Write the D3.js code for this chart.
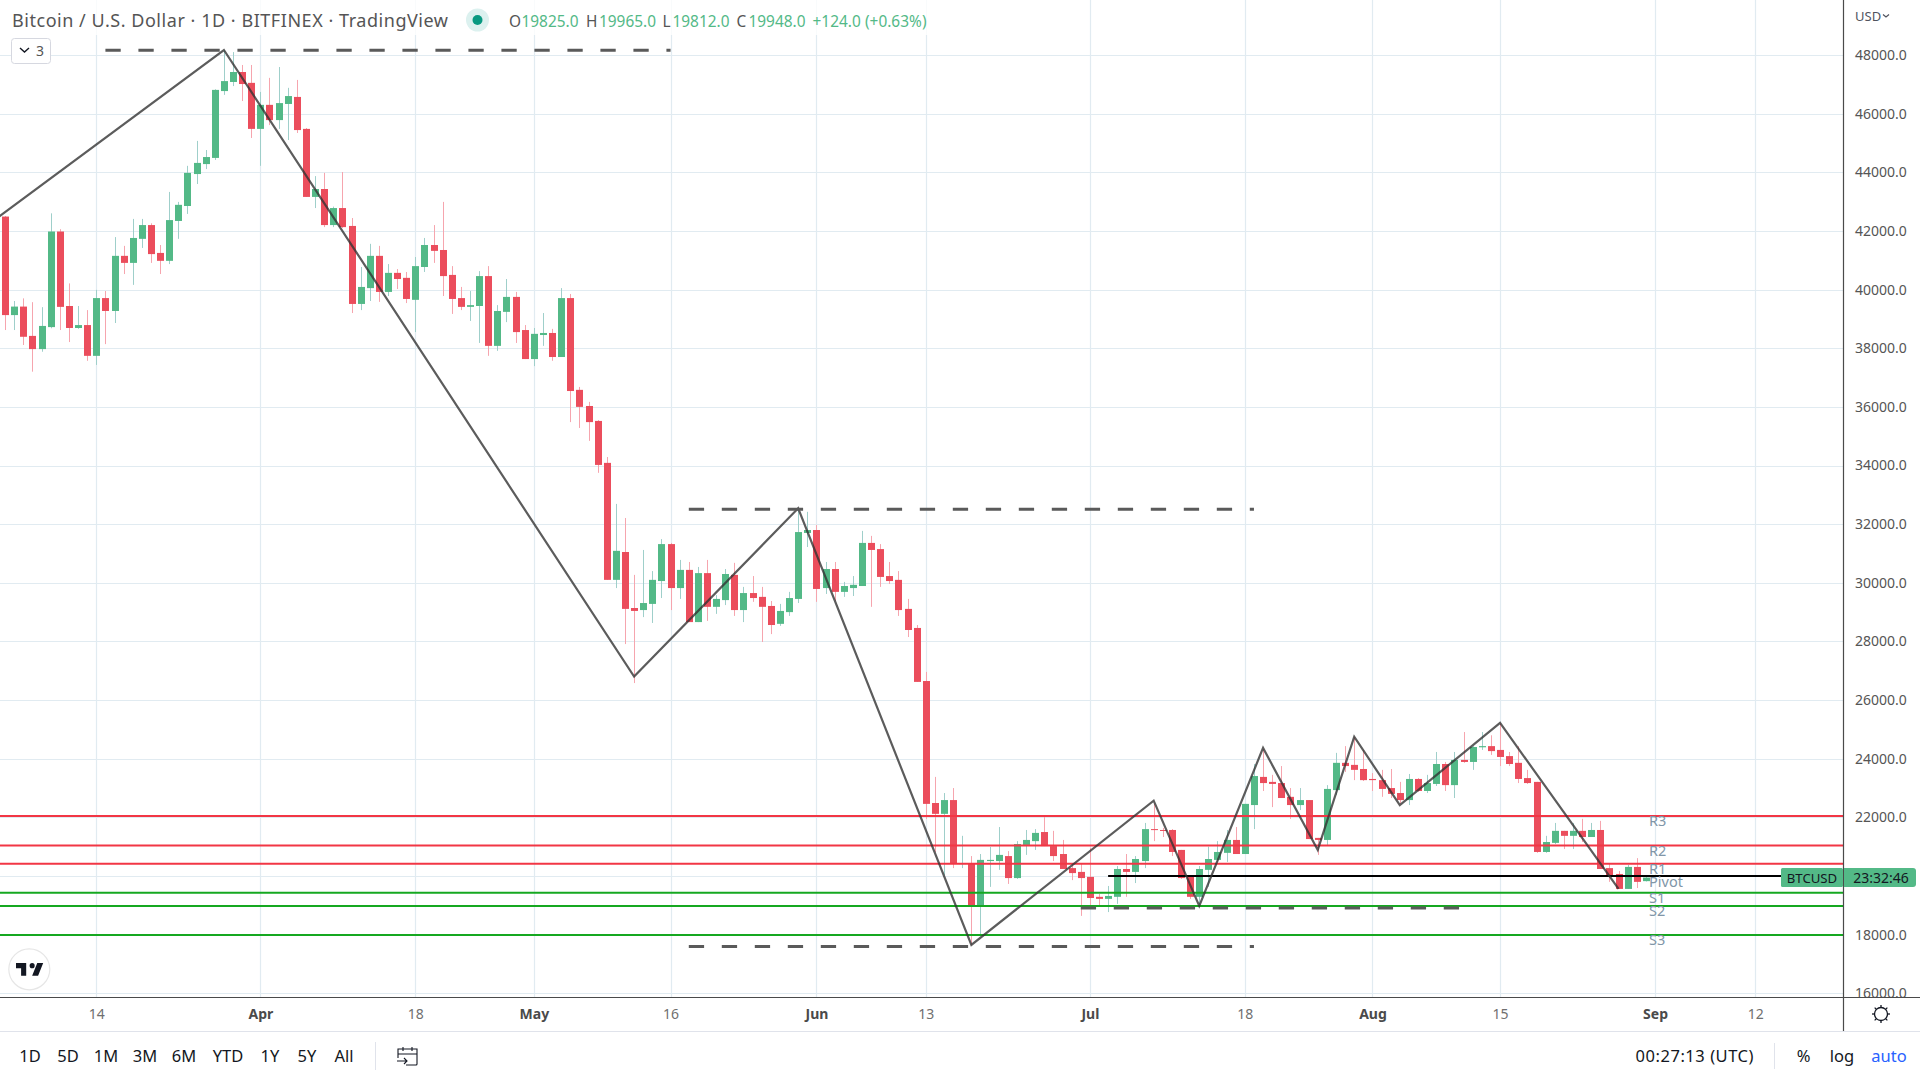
<!DOCTYPE html>
<meta charset="utf-8">
<script src="https://d3js.org/d3.v7.min.js"></script>
<style>
body { margin: 0; background: #fff; }
text { font-family: "Noto Sans", sans-serif; }
</style>
<body>
<script>

var width = 1920
var height = 1080

// daily bars, first one is 4 Mar 2022
var firstDay = new Date(Date.UTC(2022, 2, 4))

var opens = [
  42490,39130,39420,38420,37970,38720,41980,39440,38690,38790,37740,39710,39270,41150,40910,41730,42200,41250,40980,42340,42850,43940,44280,44490,46770,47080,47420,47050,
  45480,46300,45780,46330,46570,45480,43160,43430,42200,42780,42170,39510,40050,41150,39920,40570,40400,39650,40770,41520,41350,40500,39710,39410,39440,40460,38080,39240,39750,38620,
  37630,38450,38520,37700,39710,36580,36030,35520,34090,30100,31050,29140,29070,29280,30060,31320,29820,30440,28660,30330,29180,29410,30270,29070,29650,29520,29210,28600,29000,29450,31700,
  31800,29820,30470,29690,29820,29890,31360,31150,30230,30100,29110,28460,26650,22490,22120,22590,20410,20410,19010,20510,20510,20680,19930,21060,21190,21500,21020,20750,20270,20140,
  19970,19290,19220,19290,20240,20140,20510,21600,21570,21570,20890,19970,19290,20210,20550,20790,21230,20750,22420,23380,23210,23170,22700,22420,22590,21300,21230,22930,23860,23790,23650,
  23310,23270,23000,22830,22590,23310,22900,23140,23820,23100,23960,23890,24390,24430,24300,24090,23860,23340,23210,20820,21130,21540,21370,21540,21330,21570,20270,20070,19560,20310,19825
]
var highs = [
  42510,39610,39700,39570,39400,42600,42060,40210,39440,39300,39990,39950,41790,41490,42410,42410,42260,41520,43330,42990,44220,45070,44760,46830,48170,48100,47660,47660,
  46740,47220,47590,46880,47150,45510,43870,43980,42830,44010,42440,40770,41560,41490,40870,40700,40600,41110,41760,42200,42990,40800,40090,39950,40630,40800,39470,40360,39920,38790,
  38690,39200,38660,40050,39850,36680,36170,35550,34290,32690,32210,30270,31120,30400,31490,31360,30780,30710,30540,30780,29580,30470,30680,29860,30230,29860,29380,29280,29690,32530,32420,
  31970,30710,30710,30030,30230,31770,31600,31320,30710,30400,29450,28560,26960,23380,22830,23000,21370,20680,20750,20990,21670,20850,21190,21570,21600,22050,21540,21230,20380,20410,
  20960,19390,19660,20340,20750,20680,21810,22460,21640,21600,20890,19970,20340,21000,21190,21570,21670,22460,23820,24330,23450,23750,23000,23000,22590,21300,23100,24200,24430,24740,24300,
  23510,23620,23650,23210,23480,23340,23450,24230,23890,24230,24910,24430,24910,24800,25220,24230,24430,23620,23210,21370,21810,21540,21810,21950,21810,21880,20410,20170,20380,20610,19965
]
var lows = [
  38620,38620,38110,37200,37880,38680,38620,38210,38660,37570,37430,38140,38860,40530,40160,41420,40910,40530,40870,41730,42580,43600,44110,44420,46640,46940,46430,45170,
  44220,45610,45480,45100,45340,43160,42780,42130,42130,42100,39200,39300,39610,39580,39780,40020,39540,38550,40600,40910,39780,39170,39300,38930,38180,37740,37910,38890,38180,37630,
  37390,38080,37570,37700,35480,35280,34840,33750,30100,29820,27910,26580,28830,28630,29480,29070,29450,28660,28660,28700,28940,29240,28870,28660,29350,27980,28250,28530,28870,29310,31220,
  29350,29620,29380,29520,29550,29890,29180,29860,29960,28870,28150,26620,21950,20820,20030,20270,20270,17650,17990,19630,20210,19730,19900,20720,20890,21020,20510,20240,19860,18640,
  18940,18980,18770,19050,19290,19760,20270,21190,21330,20680,19900,19220,18940,19630,20480,20480,20750,20750,21600,22900,22350,22660,21950,22250,21260,20720,21060,22760,23550,23270,23240,
  22900,22700,22660,22460,22420,22870,22830,23070,22900,22660,23860,23620,24300,24130,23750,23750,23170,23140,20790,20790,21090,20920,20920,21160,21330,20240,19800,19560,19560,19590,19812
]
var closes = [
  39130,39420,38390,37970,38760,41980,39410,38690,38790,37740,39710,39270,41150,40910,41760,42200,41210,40980,42370,42890,43980,44320,44520,46810,47110,47420,47010,45480,
  46300,45780,46360,46600,45440,43160,43430,42200,42780,42130,39510,40090,41150,39920,40570,40360,39680,40800,41520,41320,40460,39680,39410,39470,40460,38080,39270,39750,38550,37630,
  38490,38520,37700,39710,36540,36000,35480,34020,30100,31090,29110,29040,29310,30100,31320,29820,30440,28660,30330,29180,29450,30300,29070,29650,29480,29180,28560,29040,29480,31730,31800,
  29790,30470,29690,29890,29930,31360,31120,30200,30060,29070,28390,26620,22460,22120,22590,20410,20440,19010,20550,20550,20720,19930,21090,21230,21470,21020,20680,20240,20100,19930,
  19250,19220,19320,20240,20140,20580,21600,21570,21540,20820,19930,19290,20240,20580,20820,21230,20750,22460,23410,23170,23140,22660,22420,22590,21260,21230,22970,23860,23750,23620,23270,
  23270,22970,22800,22590,23310,22900,23170,23820,23100,23960,23890,24400,24430,24260,24060,23820,23310,23170,20820,21160,21540,21370,21540,21330,21570,20240,20000,19560,20310,19800,19948
]

var priceTicks = [16000,18000,20000,22000,24000,26000,28000,30000,32000,34000,36000,38000,40000,42000,44000,46000,48000]
var timeTicks = [[2,14,"14"],[3,1,"Apr"],[3,18,"18"],[4,1,"May"],[4,16,"16"],[5,1,"Jun"],[5,13,"13"],[6,1,"Jul"],[6,18,"18"],[7,1,"Aug"],[7,15,"15"],[8,1,"Sep"],[8,12,"12"]]

// zigzag drawn on the chart, [month, day, price]
var zigzag = [[2,3,42410],[2,28,48170],[4,12,26800],[4,30,32540],[5,18,17650],[6,8,22570],[6,13,18980],[6,20,24370],[6,26,20890],[6,30,24750],[7,4,22420],[7,15,25220],[7,28,19560]]

// dashed horizontals, [from month, from day, to month, to day, price]
var dashed = [[2,15,4,16,48160],[4,18,6,19,32505],[4,18,6,19,17600],[5,30,7,11,18910]]

var levelNames = ["R3","R2","R1","Pivot","S1","S2","S3"]
var levelValues = [22050,21040,20420,20000,19430,18980,17990]

var rangeButtons = ["1D","5D","1M","3M","6M","YTD","1Y","5Y","All"]
var rangeButtonX = [30,68,106,145,184,228,270,307,344]

var up = "#53b987", down = "#eb4d5c"
var upWick = "#9fcfca", downWick = "#f6a5ae"
var gridColor = "#e1ebf1", axisColor = "#4a4a4a"

var chartRight = 1843, chartBottom = 997

function utc(m, d) { return new Date(Date.UTC(2022, m, d)) }

var x = d3.scaleUtc().domain([utc(2,14), utc(8,12)]).range([96.3, 1755.3])
var y = d3.scaleLinear().domain([16000, 48000]).range([993.3, 55])

var svg = d3.select("body").append("svg")
            .attr("width", width)
            .attr("height", height)
            .style("display", "block")

var defs = svg.append("defs")
defs.append("clipPath").attr("id", "pane").append("rect").attr("width", chartRight).attr("height", chartBottom)
defs.append("clipPath").attr("id", "scalepane").append("rect").attr("x", chartRight).attr("width", width - chartRight).attr("height", chartBottom)

var pane = svg.append("g").attr("clip-path", "url(#pane)")

// grid
pane.append("g").selectAll("line").data(priceTicks).join("line")
    .attr("x1", 0).attr("x2", chartRight)
    .attr("y1", function(d) { return Math.round(y(d)) + 0.5 })
    .attr("y2", function(d) { return Math.round(y(d)) + 0.5 })
    .attr("stroke", gridColor)
    .attr("stroke-width", 1.2)
pane.append("g").selectAll("line").data(timeTicks).join("line")
    .attr("x1", function(d) { return Math.round(x(utc(d[0], d[1]))) + 0.5 })
    .attr("x2", function(d) { return Math.round(x(utc(d[0], d[1]))) + 0.5 })
    .attr("y1", 0).attr("y2", chartBottom)
    .attr("stroke", gridColor)
    .attr("stroke-width", 1.2)

// legend background fades the grid under the title
pane.append("rect").attr("x", 6).attr("y", 0).attr("width", 930).attr("height", 35).attr("fill", "#fff").attr("opacity", 0.8)

// candles
var bars = d3.range(opens.length).map(function(i) {
  return {date: d3.utcDay.offset(firstDay, i), o: opens[i], h: highs[i], l: lows[i], c: closes[i]}
})
function cx(d) { return Math.round(x(d.date)) + 0.5 }
var candle = pane.append("g").selectAll("g").data(bars).join("g")
candle.append("line")
    .attr("x1", cx).attr("x2", cx)
    .attr("y1", function(d) { return y(d.h) })
    .attr("y2", function(d) { return y(d.l) })
    .attr("stroke", function(d) { return d.c >= d.o ? upWick : downWick })
candle.append("rect")
    .attr("x", function(d) { return cx(d) - 3.5 })
    .attr("width", 7)
    .attr("y", function(d) { return y(Math.max(d.o, d.c)) })
    .attr("height", function(d) { return Math.max(1, Math.abs(y(d.o) - y(d.c))) })
    .attr("fill", function(d) { return d.c >= d.o ? up : down })

// pivot levels
pane.append("g").selectAll("line").data(levelValues).join("line")
    .attr("x1", function(d, i) { return levelNames[i] == "Pivot" ? x(utc(6,3)) : 0 })
    .attr("x2", chartRight)
    .attr("y1", function(d) { return y(d) })
    .attr("y2", function(d) { return y(d) })
    .attr("stroke", function(d, i) { return i < 3 ? "#f23645" : (i == 3 ? "#000" : "#15a820") })
    .attr("stroke-width", 2)

// zigzag
var line = d3.line().x(function(d) { return x(utc(d[0], d[1])) }).y(function(d) { return y(d[2]) })
pane.append("path").attr("d", line(zigzag))
    .attr("fill", "none")
    .attr("stroke", "#333")
    .attr("stroke-opacity", 0.8)
    .attr("stroke-width", 2.2)

// dashed extremes
pane.append("g").selectAll("line").data(dashed).join("line")
    .attr("x1", function(d) { return x(utc(d[0], d[1])) })
    .attr("x2", function(d) { return x(utc(d[2], d[3])) })
    .attr("y1", function(d) { return y(d[4]) })
    .attr("y2", function(d) { return y(d[4]) })
    .attr("stroke", "#5a5a5a")
    .attr("stroke-width", 3)
    .attr("stroke-dasharray", "15.3 17.7")

// level names sit just under their lines
pane.append("g").selectAll("text").data(levelNames).join("text")
    .attr("x", 1649)
    .attr("y", function(d, i) { return y(levelValues[i]) + 10.5 })
    .attr("font-size", 14.5)
    .attr("fill", "#8196a8")
    .text(function(d) { return d })

// axes
var yAxis = svg.append("g")
    .attr("clip-path", "url(#scalepane)")
var yAxisInner = yAxis.append("g")
    .attr("transform", "translate(" + chartRight + ",0)")
    .call(d3.axisRight(y).tickValues(priceTicks).tickSize(0).tickPadding(12).tickFormat(d3.format(".1f")))
yAxisInner.select(".domain").remove()
yAxisInner.selectAll("text").attr("font-size", 14).attr("fill", "#555").style("font-family", '"Noto Sans", sans-serif')

var xAxis = svg.append("g")
    .attr("transform", "translate(0," + chartBottom + ")")
    .call(d3.axisBottom(x)
      .tickValues(timeTicks.map(function(d) { return utc(d[0], d[1]) }))
      .tickSize(0).tickPadding(12)
      .tickFormat(function(d, i) { return timeTicks[i][2] }))
xAxis.select(".domain").remove()
xAxis.selectAll("text")
    .attr("font-size", 14)
    .attr("fill", function(d, i) { return /[A-Z]/.test(timeTicks[i][2]) ? "#4a4a4a" : "#6f6f6f" })
    .attr("font-weight", function(d, i) { return /[A-Z]/.test(timeTicks[i][2]) ? "bold" : "normal" })
    .style("font-family", '"Noto Sans", sans-serif')

svg.append("line").attr("x1", chartRight + 0.5).attr("x2", chartRight + 0.5).attr("y1", 0).attr("y2", 1031).attr("stroke", axisColor).attr("stroke-width", 1.2)
svg.append("line").attr("x1", 0).attr("x2", width).attr("y1", chartBottom + 0.5).attr("y2", chartBottom + 0.5).attr("stroke", axisColor).attr("stroke-width", 1.2)
svg.append("line").attr("x1", 0).attr("x2", width).attr("y1", 1031.5).attr("y2", 1031.5).attr("stroke", "#e0e3eb")

// last price tags
var tagY = 868, tagH = 19
svg.append("rect").attr("x", 1781).attr("y", tagY).attr("width", 62).attr("height", tagH).attr("rx", 1.5).attr("fill", up)
svg.append("path").attr("d", "M1844 " + tagY + "H1913a3 3 0 0 1 3 3V" + (tagY + tagH - 3) + "a3 3 0 0 1 -3 3H1844Z").attr("fill", up)
svg.append("text").attr("x", 1812).attr("y", 882.5).attr("text-anchor", "middle").attr("font-size", 13.2).attr("fill", "#131722").text("BTCUSD")
svg.append("text").attr("x", 1881).attr("y", 882.5).attr("text-anchor", "middle").attr("font-size", 14).attr("fill", "#131722").text("23:32:46")

// currency button
svg.append("text").attr("x", 1855).attr("y", 21).attr("font-size", 13).attr("fill", "#50535e").text("USD")
svg.append("path").attr("d", "M1883 14.5l3 2.5l3 -2.5").attr("fill", "none").attr("stroke", "#50535e").attr("stroke-width", 1.2)

// title and OHLC legend
svg.append("text").attr("x", 12).attr("y", 27).attr("font-size", 18).attr("textLength", 436).attr("lengthAdjust", "spacing").attr("fill", "#555").text("Bitcoin / U.S. Dollar · 1D · BITFINEX · TradingView")
svg.append("circle").attr("cx", 477.5).attr("cy", 20).attr("r", 11.5).attr("fill", "#dcf1ef")
svg.append("circle").attr("cx", 477.5).attr("cy", 20).attr("r", 5).attr("fill", "#089981")

var legendLetters = ["O","H","L","C"]
var legendValues = [opens[180], highs[180], lows[180], closes[180]]
var legendX = [509, 586, 662.5, 736.5]
var legendValueX = [521.5, 599, 672.5, 748.5]
legendLetters.forEach(function(l, i) {
  svg.append("text").attr("x", legendX[i]).attr("y", 27).attr("font-size", 15.4).attr("fill", "#555").text(l)
  svg.append("text").attr("x", legendValueX[i]).attr("y", 27).attr("font-size", 15.4).attr("fill", up).text(d3.format(".1f")(legendValues[i]))
})
svg.append("text").attr("x", 812.5).attr("y", 27).attr("font-size", 15.4).attr("textLength", 114).attr("fill", up).text("+124.0 (+0.63%)")

// collapsed indicators button
svg.append("rect").attr("x", 11.5).attr("y", 38.5).attr("width", 39).attr("height", 25).attr("rx", 3).attr("fill", "#fff").attr("stroke", "#d6d8e0")
svg.append("path").attr("d", "M20 48l4.5 4l4.5 -4").attr("fill", "none").attr("stroke", "#131722").attr("stroke-width", 1.4)
svg.append("text").attr("x", 36).attr("y", 56).attr("font-size", 14).attr("fill", "#555").text("3")

// logo
svg.append("circle").attr("cx", 29.3).attr("cy", 969.3).attr("r", 20.5).attr("fill", "#fff").attr("stroke", "#e6e6e6").attr("stroke-width", 1.2)
svg.append("path").attr("transform", "translate(14.3,958) scale(0.85)")
    .attr("d", "M14 6H2v6h6v9h6V6zm14 15h-7l6-15h7l-6 15zm-7-9a3 3 0 1 0 0-6 3 3 0 0 0 0 6z")
    .attr("fill", "#131722")

// bottom toolbar
svg.append("g").selectAll("text").data(rangeButtons).join("text")
    .attr("x", function(d, i) { return rangeButtonX[i] })
    .attr("y", 1062)
    .attr("text-anchor", "middle")
    .attr("font-size", 16.5)
    .attr("fill", "#131722")
    .text(function(d) { return d })
svg.append("line").attr("x1", 375.5).attr("x2", 375.5).attr("y1", 1042).attr("y2", 1070).attr("stroke", "#e0e3eb")
svg.append("path").attr("d", "M398 1058v-9h19v15a1 1 0 0 1 -1 1h-10M398 1054h19M403 1047v4M412 1047v4M397 1061h10M404 1058l3 3l-3 3")
    .attr("fill", "none").attr("stroke", "#131722").attr("stroke-width", 1.1)

svg.append("text").attr("x", 1635.5).attr("y", 1062).attr("font-size", 16.5).attr("textLength", 118).attr("fill", "#131722").text("00:27:13 (UTC)")
svg.append("line").attr("x1", 1774.5).attr("x2", 1774.5).attr("y1", 1043).attr("y2", 1069).attr("stroke", "#e0e3eb")
svg.append("text").attr("x", 1803.5).attr("y", 1062).attr("text-anchor", "middle").attr("font-size", 16.5).attr("fill", "#131722").text("%")
svg.append("text").attr("x", 1842).attr("y", 1062).attr("text-anchor", "middle").attr("font-size", 16.5).attr("fill", "#131722").text("log")
svg.append("text").attr("x", 1889).attr("y", 1062).attr("text-anchor", "middle").attr("font-size", 16.5).attr("fill", "#2962ff").text("auto")

// settings gear
var gear = svg.append("g").attr("transform", "translate(1881,1014)").attr("fill", "none").attr("stroke", "#131722").attr("stroke-width", 1.3)
gear.append("circle").attr("r", 6.5)
d3.range(8).forEach(function(i) {
  gear.append("line").attr("y1", -6.5).attr("y2", -9).attr("transform", "rotate(" + (i * 45) + ")")
})

</script>
</body>
